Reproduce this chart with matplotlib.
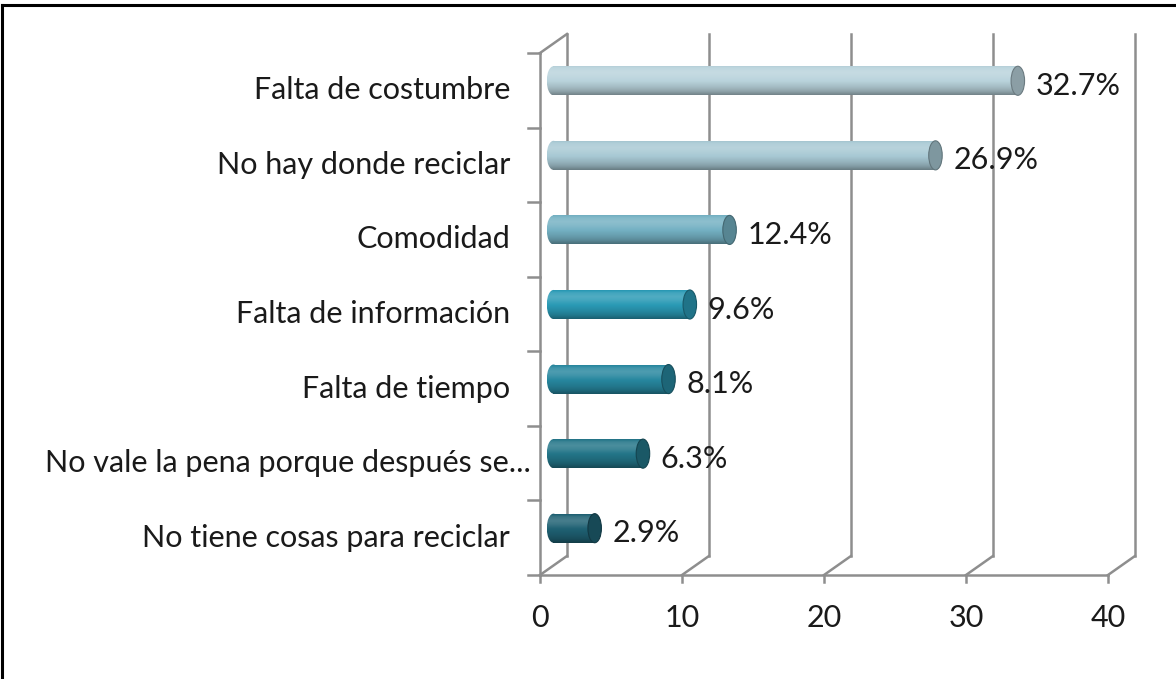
import numpy as np
import matplotlib
matplotlib.use("Agg")
from matplotlib import pyplot as plt
from matplotlib.patches import Ellipse, Rectangle
from matplotlib.lines import Line2D

plt.rcParams["font.family"] = ["Lato", "DejaVu Sans"]

# datos (de abajo hacia arriba)
categories = [
    "No tiene cosas para reciclar",
    "No vale la pena porque después se...",
    "Falta de tiempo",
    "Falta de información",
    "Comodidad",
    "No hay donde reciclar",
    "Falta de costumbre",
]
values = [2.9, 6.3, 8.1, 9.6, 12.4, 26.9, 32.7]
value_labels = ["2.9%", "6.3%", "8.1%", "9.6%", "12.4%", "26.9%", "32.7%"]
bar_colors = ["#1f6173", "#237588", "#27879f", "#2a9ab5", "#74b1c3", "#a8c9d4", "#b9d3dc"]
x_ticks = [0, 10, 20, 30, 40]

GRID = "#8e8e8e"
DX, DY = 1.9, 0.255      # profundidad del efecto 3D (unidades de datos)
BAR_H = 0.39
CAP_W = 0.95
FS = 22

fig = plt.figure(figsize=(11.76, 6.79), dpi=100)
ax = fig.add_axes([540 / 1176, 104 / 679, 568 / 1176, 522 / 679])
ax.set_axis_off()

y_lo, y_hi = -0.5, len(categories) - 0.5

# pared del fondo y piso
for xt in x_ticks:
    ax.plot([xt + DX, xt + DX], [y_lo + DY, y_hi + DY], color=GRID, lw=1.8, zorder=1, clip_on=False)
    ax.plot([xt, xt + DX], [y_lo, y_lo + DY], color=GRID, lw=1.8, zorder=1, clip_on=False)
    ax.plot([xt, xt], [y_lo, y_lo - 0.1], color=GRID, lw=1.8, zorder=1, clip_on=False)
    ax.text(xt, y_lo - 0.57, str(xt), ha="center", va="center", fontsize=FS, color="#1a1a1a")

# eje frontal
ax.plot([0, 0], [y_lo, y_hi], color=GRID, lw=1.8, zorder=1, clip_on=False)
ax.plot([0, DX], [y_hi, y_hi + DY], color=GRID, lw=1.8, zorder=1, clip_on=False)
ax.plot([0, x_ticks[-1]], [y_lo, y_lo], color=GRID, lw=1.8, zorder=1, clip_on=False)
for yb in np.arange(y_lo, y_hi + 0.01, 1.0):
    ax.plot([-0.85, 0], [yb, yb], color=GRID, lw=1.8, zorder=1, clip_on=False)


def shade(color, f):
    rgb = np.array(matplotlib.colors.to_rgb(color))
    if f >= 1:
        return rgb + (1 - rgb) * (f - 1)
    return rgb * f


prof = np.array([0.93, 1.12, 1.18, 1.12, 1.02, 0.95, 0.88, 0.78, 0.62])
for i, (v, c) in enumerate(zip(values, bar_colors)):
    yc = i + DY / 2
    x0 = DX / 2
    x1 = x0 + v
    t = np.linspace(0, 1, 60)
    f = np.interp(t, np.linspace(0, 1, len(prof)), prof)
    img = np.array([shade(c, fi) for fi in f])[:, None, :].clip(0, 1)
    ext = (x0 - CAP_W / 2, x1, yc - BAR_H / 2, yc + BAR_H / 2)
    im = ax.imshow(img, extent=ext, aspect="auto", origin="upper", zorder=2,
                   interpolation="bilinear")
    body = Rectangle((x0, yc - BAR_H / 2), v, BAR_H, transform=ax.transData)
    im.set_clip_path(body)
    im2 = ax.imshow(img, extent=ext, aspect="auto", origin="upper", zorder=2,
                    interpolation="bilinear")
    left = Ellipse((x0, yc), CAP_W, BAR_H, transform=ax.transData)
    im2.set_clip_path(left)
    cap = Ellipse((x1, yc), CAP_W, BAR_H, facecolor=shade(c, 0.75),
                  edgecolor=shade(c, 0.58), lw=0.8, zorder=3)
    ax.add_patch(cap)
    ax.text(x1 + 1.25, i + 0.06, value_labels[i], ha="left", va="center",
            fontsize=FS, color="#1a1a1a", zorder=4)

for i, lab in enumerate(categories):
    xl = -0.65 if lab.endswith("...") else -2.1
    ax.text(xl, i, lab, ha="right", va="center", fontsize=FS, color="#1a1a1a")

ax.set_xlim(0, 40)
ax.set_ylim(y_lo, y_hi)

# marco del recuadro (solo arriba e izquierda visibles)
fig.add_artist(Line2D([2 / 1176, 2 / 1176], [0, 1 - 5 / 679], color="black", lw=2.2))
fig.add_artist(Line2D([2 / 1176, 1], [1 - 5 / 679, 1 - 5 / 679], color="black", lw=2.2))

fig.savefig("out.png", dpi=100)
